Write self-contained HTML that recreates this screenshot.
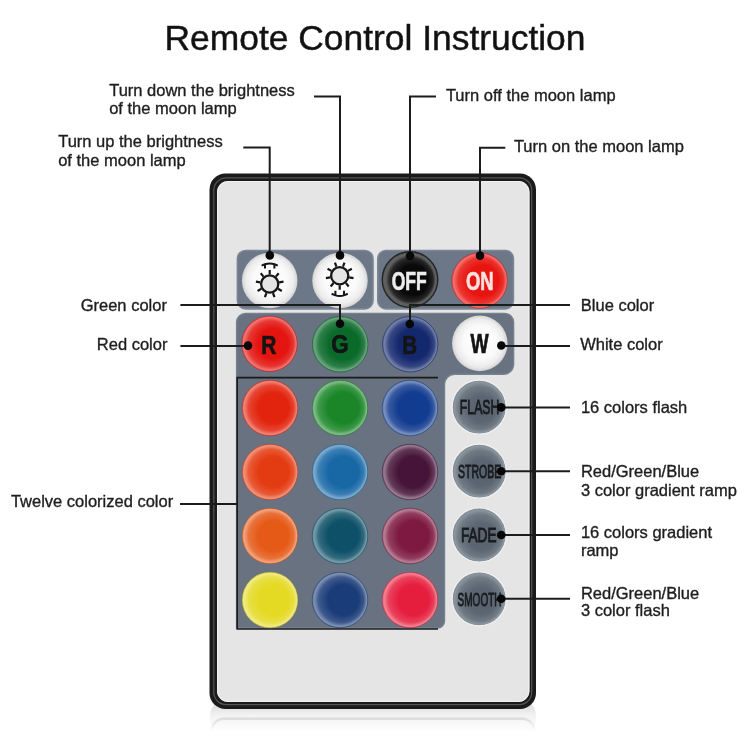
<!DOCTYPE html>
<html><head><meta charset="utf-8"><style>
html,body{margin:0;padding:0;background:#fff;width:750px;height:750px;overflow:hidden}
svg{display:block}
</style></head><body>
<svg width="750" height="750" viewBox="0 0 750 750" style="will-change:transform">
<defs><linearGradient id="refl" gradientUnits="userSpaceOnUse" x1="0" y1="708" x2="0" y2="732"><stop offset="0" stop-color="#e4e4e4"/><stop offset="0.3" stop-color="#f2f2f2"/><stop offset="1" stop-color="#ffffff"/></linearGradient><linearGradient id="refl2" gradientUnits="userSpaceOnUse" x1="0" y1="717" x2="0" y2="731"><stop offset="0" stop-color="#d8d8d8"/><stop offset="1" stop-color="#ffffff"/></linearGradient><radialGradient id="gw" cx="50%" cy="50%" r="50%" fx="52%" fy="45%"><stop offset="0" stop-color="#ffffff"/><stop offset="0.6" stop-color="#fafafa"/><stop offset="0.86" stop-color="#ececec"/><stop offset="0.97" stop-color="#d8d8d8"/><stop offset="1" stop-color="#c8c8c8"/></radialGradient><radialGradient id="goff" cx="50%" cy="50%" r="50%" fx="62%" fy="52%"><stop offset="0" stop-color="#050505"/><stop offset="0.55" stop-color="#0a0a0a"/><stop offset="0.78" stop-color="#262626"/><stop offset="0.9" stop-color="#626262"/><stop offset="0.97" stop-color="#5a5a5a"/><stop offset="1" stop-color="#2a2a2a"/></radialGradient><radialGradient id="gon" cx="50%" cy="50%" r="50%" fx="64%" fy="50%"><stop offset="0" stop-color="#e8140f"/><stop offset="0.55" stop-color="#e8140f"/><stop offset="0.82" stop-color="#eb3430"/><stop offset="0.95" stop-color="#f1726f"/><stop offset="1" stop-color="#ed4c48"/></radialGradient><radialGradient id="gr" cx="50%" cy="50%" r="50%" fx="64%" fy="50%"><stop offset="0" stop-color="#e41510"/><stop offset="0.55" stop-color="#e41510"/><stop offset="0.82" stop-color="#e73733"/><stop offset="0.95" stop-color="#ef7774"/><stop offset="1" stop-color="#ea4f4c"/></radialGradient><radialGradient id="gg" cx="50%" cy="50%" r="50%" fx="64%" fy="50%"><stop offset="0" stop-color="#0a6a2a"/><stop offset="0.55" stop-color="#0a6a2a"/><stop offset="0.82" stop-color="#2c7e47"/><stop offset="0.95" stop-color="#6ca57f"/><stop offset="1" stop-color="#448d5d"/></radialGradient><radialGradient id="gb" cx="50%" cy="50%" r="50%" fx="64%" fy="50%"><stop offset="0" stop-color="#14286e"/><stop offset="0.55" stop-color="#14286e"/><stop offset="0.82" stop-color="#364783"/><stop offset="0.95" stop-color="#7682aa"/><stop offset="1" stop-color="#4f5e92"/></radialGradient><radialGradient id="c00" cx="50%" cy="50%" r="50%" fx="64%" fy="50%"><stop offset="0" stop-color="#e2240e"/><stop offset="0.55" stop-color="#e2240e"/><stop offset="0.82" stop-color="#e64633"/><stop offset="0.95" stop-color="#ef867a"/><stop offset="1" stop-color="#e95f4f"/></radialGradient><radialGradient id="c01" cx="50%" cy="50%" r="50%" fx="64%" fy="50%"><stop offset="0" stop-color="#1a8628"/><stop offset="0.55" stop-color="#1a8628"/><stop offset="0.82" stop-color="#3e9949"/><stop offset="0.95" stop-color="#81bc88"/><stop offset="1" stop-color="#57a662"/></radialGradient><radialGradient id="c02" cx="50%" cy="50%" r="50%" fx="64%" fy="50%"><stop offset="0" stop-color="#123c90"/><stop offset="0.55" stop-color="#123c90"/><stop offset="0.82" stop-color="#375aa1"/><stop offset="0.95" stop-color="#7c93c1"/><stop offset="1" stop-color="#5170ad"/></radialGradient><radialGradient id="c10" cx="50%" cy="50%" r="50%" fx="64%" fy="50%"><stop offset="0" stop-color="#e43c12"/><stop offset="0.55" stop-color="#e43c12"/><stop offset="0.82" stop-color="#e85a37"/><stop offset="0.95" stop-color="#f0937c"/><stop offset="1" stop-color="#eb7051"/></radialGradient><radialGradient id="c11" cx="50%" cy="50%" r="50%" fx="64%" fy="50%"><stop offset="0" stop-color="#1868a6"/><stop offset="0.55" stop-color="#1868a6"/><stop offset="0.82" stop-color="#3c7fb4"/><stop offset="0.95" stop-color="#7fabce"/><stop offset="1" stop-color="#5690be"/></radialGradient><radialGradient id="c12" cx="50%" cy="50%" r="50%" fx="64%" fy="50%"><stop offset="0" stop-color="#461438"/><stop offset="0.55" stop-color="#461438"/><stop offset="0.82" stop-color="#633957"/><stop offset="0.95" stop-color="#997d91"/><stop offset="1" stop-color="#77536d"/></radialGradient><radialGradient id="c20" cx="50%" cy="50%" r="50%" fx="64%" fy="50%"><stop offset="0" stop-color="#e65a18"/><stop offset="0.55" stop-color="#e65a18"/><stop offset="0.82" stop-color="#e9733c"/><stop offset="0.95" stop-color="#f1a47f"/><stop offset="1" stop-color="#ec8656"/></radialGradient><radialGradient id="c21" cx="50%" cy="50%" r="50%" fx="64%" fy="50%"><stop offset="0" stop-color="#0e5068"/><stop offset="0.55" stop-color="#0e5068"/><stop offset="0.82" stop-color="#336b7f"/><stop offset="0.95" stop-color="#7a9eab"/><stop offset="1" stop-color="#4f7f90"/></radialGradient><radialGradient id="c22" cx="50%" cy="50%" r="50%" fx="64%" fy="50%"><stop offset="0" stop-color="#7e1a42"/><stop offset="0.55" stop-color="#7e1a42"/><stop offset="0.82" stop-color="#923e5f"/><stop offset="0.95" stop-color="#b88197"/><stop offset="1" stop-color="#a05775"/></radialGradient><radialGradient id="c30" cx="50%" cy="50%" r="50%" fx="64%" fy="50%"><stop offset="0" stop-color="#e4da24"/><stop offset="0.55" stop-color="#e4da24"/><stop offset="0.82" stop-color="#e8df46"/><stop offset="0.95" stop-color="#f0ea86"/><stop offset="1" stop-color="#ebe35f"/></radialGradient><radialGradient id="c31" cx="50%" cy="50%" r="50%" fx="64%" fy="50%"><stop offset="0" stop-color="#1a3c78"/><stop offset="0.55" stop-color="#1a3c78"/><stop offset="0.82" stop-color="#3e5a8d"/><stop offset="0.95" stop-color="#8193b4"/><stop offset="1" stop-color="#57709c"/></radialGradient><radialGradient id="c32" cx="50%" cy="50%" r="50%" fx="64%" fy="50%"><stop offset="0" stop-color="#e61e3e"/><stop offset="0.55" stop-color="#e61e3e"/><stop offset="0.82" stop-color="#e9415c"/><stop offset="0.95" stop-color="#f18394"/><stop offset="1" stop-color="#ec5a72"/></radialGradient><radialGradient id="ggr" cx="50%" cy="50%" r="50%" fx="60%" fy="57%"><stop offset="0" stop-color="#56616d"/><stop offset="0.5" stop-color="#5b6672"/><stop offset="0.8" stop-color="#6f7a85"/><stop offset="0.93" stop-color="#8c969f"/><stop offset="1" stop-color="#77818a"/></radialGradient></defs>
<rect x="210" y="700" width="326" height="34" rx="15" fill="url(#refl)"/><path d="M211.5 734 V731 A12.5 12.5 0 0 1 224 718.8 H522 A12.5 12.5 0 0 1 534.5 731 V734" fill="none" stroke="url(#refl2)" stroke-width="2.4"/><rect x="209.5" y="173.5" width="326.5" height="535.5" rx="16" fill="#1b1b1b"/><rect x="213.8" y="177.8" width="317.9" height="526.9" rx="12.5" fill="none" stroke="#555555" stroke-width="1.2"/><rect x="217" y="181" width="312.5" height="521" rx="11" fill="#e4e5e4"/><rect x="217.6" y="181.6" width="311.3" height="519.8" rx="10.5" fill="none" stroke="#f2f2f2" stroke-width="1"/><rect x="237.4" y="250.5" width="135.6" height="58.4" rx="8.2" fill="#6c7787" stroke="#7a8595" stroke-width="1.6"/><rect x="377.8" y="250.5" width="135.6" height="58.4" rx="8.2" fill="#6c7787" stroke="#7a8595" stroke-width="1.6"/><path d="M245.6 313.4 H504.6 A9 9 0 0 1 513.6 322.4 V364.3 A10 10 0 0 1 503.6 374.3 H454.5 A10 10 0 0 0 444.5 384.3 V621 A7 7 0 0 1 437.5 628 H236.6 V322.4 A9 9 0 0 1 245.6 313.4 Z" fill="#687281" stroke="#76808f" stroke-width="1.4"/><path d="M438 377.6 H237.2 V629 H438" fill="none" stroke="#1a1a1a" stroke-width="1.6"/><circle cx="269.7" cy="280.5" r="27.8" fill="url(#gw)"/><circle cx="340" cy="280.5" r="27.8" fill="url(#gw)"/><circle cx="410" cy="279.6" r="27.8" fill="url(#goff)" stroke="#262626" stroke-width="1.4"/><circle cx="479.6" cy="280.6" r="27.8" fill="url(#gon)" stroke="#b9100c" stroke-opacity="0.55" stroke-width="0.8"/><circle cx="269.5" cy="343.8" r="27.8" fill="url(#gr)" stroke="#b6100c" stroke-opacity="0.55" stroke-width="0.8"/><circle cx="340.2" cy="344.3" r="27.8" fill="url(#gg)" stroke="#085421" stroke-opacity="0.55" stroke-width="0.8"/><circle cx="410.2" cy="344.2" r="27.8" fill="url(#gb)" stroke="#102058" stroke-opacity="0.55" stroke-width="0.8"/><circle cx="479.8" cy="343.4" r="27.8" fill="url(#gw)"/><circle cx="270" cy="408" r="27.8" fill="url(#c00)" stroke="#b41c0b" stroke-opacity="0.55" stroke-width="0.8"/><circle cx="340" cy="408" r="27.8" fill="url(#c01)" stroke="#146b20" stroke-opacity="0.55" stroke-width="0.8"/><circle cx="410" cy="408" r="27.8" fill="url(#c02)" stroke="#0e3073" stroke-opacity="0.55" stroke-width="0.8"/><circle cx="270" cy="472" r="27.8" fill="url(#c10)" stroke="#b6300e" stroke-opacity="0.55" stroke-width="0.8"/><circle cx="340" cy="472" r="27.8" fill="url(#c11)" stroke="#135384" stroke-opacity="0.55" stroke-width="0.8"/><circle cx="410" cy="472" r="27.8" fill="url(#c12)" stroke="#38102c" stroke-opacity="0.55" stroke-width="0.8"/><circle cx="270" cy="536" r="27.8" fill="url(#c20)" stroke="#b84813" stroke-opacity="0.55" stroke-width="0.8"/><circle cx="340" cy="536" r="27.8" fill="url(#c21)" stroke="#0b4053" stroke-opacity="0.55" stroke-width="0.8"/><circle cx="410" cy="536" r="27.8" fill="url(#c22)" stroke="#641434" stroke-opacity="0.55" stroke-width="0.8"/><circle cx="270" cy="600" r="27.8" fill="url(#c30)" stroke="#b6ae1c" stroke-opacity="0.55" stroke-width="0.8"/><circle cx="340" cy="600" r="27.8" fill="url(#c31)" stroke="#143060" stroke-opacity="0.55" stroke-width="0.8"/><circle cx="410" cy="600" r="27.8" fill="url(#c32)" stroke="#b81831" stroke-opacity="0.55" stroke-width="0.8"/><circle cx="479.2" cy="407.2" r="27" fill="url(#ggr)" stroke="#f2f2f2" stroke-width="1.2"/><circle cx="479.2" cy="471.2" r="27" fill="url(#ggr)" stroke="#f2f2f2" stroke-width="1.2"/><circle cx="479.2" cy="535" r="27" fill="url(#ggr)" stroke="#f2f2f2" stroke-width="1.2"/><circle cx="479.2" cy="598.8" r="27" fill="url(#ggr)" stroke="#f2f2f2" stroke-width="1.2"/><circle cx="269.7" cy="284" r="8.6" fill="#e4e5e7" stroke="#161616" stroke-width="2.3"/><line x1="269.70" y1="274.40" x2="269.70" y2="270.00" stroke="#161616" stroke-width="2.2"/><line x1="275.87" y1="276.65" x2="278.70" y2="273.28" stroke="#161616" stroke-width="2.2"/><line x1="279.15" y1="282.33" x2="283.49" y2="281.57" stroke="#161616" stroke-width="2.2"/><line x1="278.01" y1="288.80" x2="281.82" y2="291.00" stroke="#161616" stroke-width="2.2"/><line x1="272.98" y1="293.02" x2="274.49" y2="297.16" stroke="#161616" stroke-width="2.2"/><line x1="266.42" y1="293.02" x2="264.91" y2="297.16" stroke="#161616" stroke-width="2.2"/><line x1="261.39" y1="288.80" x2="257.58" y2="291.00" stroke="#161616" stroke-width="2.2"/><line x1="260.25" y1="282.33" x2="255.91" y2="281.57" stroke="#161616" stroke-width="2.2"/><line x1="263.53" y1="276.65" x2="260.70" y2="273.28" stroke="#161616" stroke-width="2.2"/><path d="M261.6 265.6 L264.8 264.3 Q269.7 262.5 274.6 264.3 L277.8 265.6" fill="none" stroke="#161616" stroke-width="2" stroke-linejoin="round"/><path d="M265 264 V268.4 M274.4 264 V268.4" fill="none" stroke="#161616" stroke-width="2"/><circle cx="339.7" cy="275.7" r="8.6" fill="#e4e5e7" stroke="#161616" stroke-width="2.3"/><line x1="339.70" y1="285.30" x2="339.70" y2="289.70" stroke="#161616" stroke-width="2.2"/><line x1="345.87" y1="283.05" x2="348.70" y2="286.42" stroke="#161616" stroke-width="2.2"/><line x1="349.15" y1="277.37" x2="353.49" y2="278.13" stroke="#161616" stroke-width="2.2"/><line x1="348.01" y1="270.90" x2="351.82" y2="268.70" stroke="#161616" stroke-width="2.2"/><line x1="342.98" y1="266.68" x2="344.49" y2="262.54" stroke="#161616" stroke-width="2.2"/><line x1="336.42" y1="266.68" x2="334.91" y2="262.54" stroke="#161616" stroke-width="2.2"/><line x1="331.39" y1="270.90" x2="327.58" y2="268.70" stroke="#161616" stroke-width="2.2"/><line x1="330.25" y1="277.37" x2="325.91" y2="278.13" stroke="#161616" stroke-width="2.2"/><line x1="333.53" y1="283.05" x2="330.70" y2="286.42" stroke="#161616" stroke-width="2.2"/><path d="M331.6 293.8 L334.8 295.1 Q339.7 296.9 344.6 295.1 L347.8 293.8" fill="none" stroke="#161616" stroke-width="2" stroke-linejoin="round"/><path d="M335.4 290.8 V295.2 M344 290.8 V295.2" fill="none" stroke="#161616" stroke-width="2"/><text x="0" y="0" transform="translate(391.63 289.65) scale(0.667 1)" font-family="Liberation Sans" font-weight="bold" font-size="26.31" fill="#ececec" stroke="#ececec" stroke-width="0.7">OFF</text><text x="0" y="0" transform="translate(465.99 289.65) scale(0.702 1)" font-family="Liberation Sans" font-weight="bold" font-size="26.31" fill="#fbe0e0" stroke="#fbe0e0" stroke-width="0.7">ON</text><text x="0" y="0" transform="translate(261.35 353.65) scale(0.796 1)" font-family="Liberation Sans" font-weight="bold" font-size="26.31" fill="#141414" stroke="#141414" stroke-width="0.7">R</text><text x="0" y="0" transform="translate(331.23 353.25) scale(0.841 1)" font-family="Liberation Sans" font-weight="bold" font-size="26.60" fill="#141414" stroke="#141414" stroke-width="0.7">G</text><text x="0" y="0" transform="translate(402.18 353.84999999999997) scale(0.771 1)" font-family="Liberation Sans" font-weight="bold" font-size="26.60" fill="#141414" stroke="#141414" stroke-width="0.7">B</text><text x="0" y="0" transform="translate(470.53 353.25) scale(0.707 1)" font-family="Liberation Sans" font-weight="bold" font-size="27.18" fill="#141414" stroke="#141414" stroke-width="0.7">W</text><text x="0" y="0" transform="translate(459.84 413.95) scale(0.625 1)" font-family="Liberation Sans" font-weight="normal" font-size="19.62" fill="#1a1c1f" stroke="#1a1c1f" stroke-width="0.9">FLASH</text><text x="0" y="0" transform="translate(457.97 478.35) scale(0.552 1)" font-family="Liberation Sans" font-weight="normal" font-size="19.04" fill="#1a1c1f" stroke="#1a1c1f" stroke-width="0.9">STROBE</text><text x="0" y="0" transform="translate(460.93 542.15) scale(0.696 1)" font-family="Liberation Sans" font-weight="normal" font-size="19.62" fill="#1a1c1f" stroke="#1a1c1f" stroke-width="0.9">FADE</text><text x="0" y="0" transform="translate(457.60 605.75) scale(0.526 1)" font-family="Liberation Sans" font-weight="normal" font-size="19.04" fill="#1a1c1f" stroke="#1a1c1f" stroke-width="0.9">SMOOTH</text><path d="M314 96.4 L340 96.4 L340 255" fill="none" stroke="#1c1c1c" stroke-width="2.0"/><circle cx="340" cy="255.4" r="4.3" fill="#080808"/><path d="M243.3 147.5 L269.7 147.5 L269.7 255" fill="none" stroke="#1c1c1c" stroke-width="2.0"/><circle cx="269.8" cy="255.4" r="4.3" fill="#080808"/><path d="M436 96.4 L410 96.4 L410 255" fill="none" stroke="#1c1c1c" stroke-width="2.0"/><circle cx="410" cy="256" r="4.3" fill="#080808"/><path d="M505.3 147.7 L480 147.7 L480 255" fill="none" stroke="#1c1c1c" stroke-width="2.0"/><circle cx="480" cy="255.6" r="4.3" fill="#080808"/><path d="M180.4 305.1 L340 305.1 L340 323.6" fill="none" stroke="#1c1c1c" stroke-width="2.0"/><circle cx="340" cy="323.8" r="4.3" fill="#080808"/><path d="M180.4 346 L248 346" fill="none" stroke="#1c1c1c" stroke-width="2.0"/><circle cx="248" cy="345.6" r="4.3" fill="#080808"/><path d="M570 305.1 L410 305.1 L410 323.6" fill="none" stroke="#1c1c1c" stroke-width="2.0"/><circle cx="409.8" cy="324" r="4.3" fill="#080808"/><path d="M570 346 L501 346" fill="none" stroke="#1c1c1c" stroke-width="2.0"/><circle cx="501.3" cy="345.5" r="4.3" fill="#080808"/><path d="M180 504 L237 504" fill="none" stroke="#1c1c1c" stroke-width="2.0"/><path d="M570 407.4 L501 407.4" fill="none" stroke="#1c1c1c" stroke-width="2.0"/><circle cx="501.2" cy="407.4" r="4.3" fill="#080808"/><path d="M570 471.3 L501 471.3" fill="none" stroke="#1c1c1c" stroke-width="2.0"/><circle cx="501.2" cy="471.3" r="4.3" fill="#080808"/><path d="M570 535 L501 535" fill="none" stroke="#1c1c1c" stroke-width="2.0"/><circle cx="501.2" cy="535" r="4.3" fill="#080808"/><path d="M570 598.7 L501 598.7" fill="none" stroke="#1c1c1c" stroke-width="2.0"/><circle cx="501.2" cy="598.7" r="4.3" fill="#080808"/>
<g stroke="#1e1e1e" stroke-width="0.35"><text x="164.5" y="49.5" font-family="Liberation Sans" font-size="35.4" fill="#111" stroke-width="0.5">Remote Control Instruction</text><text x="109.2" y="95.7" font-family="Liberation Sans" font-size="16.5" fill="#1e1e1e">Turn down the brightness</text><text x="109.2" y="114.3" font-family="Liberation Sans" font-size="16.5" fill="#1e1e1e">of the moon lamp</text><text x="58.2" y="147" font-family="Liberation Sans" font-size="16.5" fill="#1e1e1e">Turn up the brightness</text><text x="58.2" y="165.7" font-family="Liberation Sans" font-size="16.5" fill="#1e1e1e">of the moon lamp</text><text x="445.9" y="101.3" font-family="Liberation Sans" font-size="16.5" fill="#1e1e1e">Turn off the moon lamp</text><text x="513.9000000000001" y="152" font-family="Liberation Sans" font-size="16.5" fill="#1e1e1e">Turn on the moon lamp</text><text x="80.7" y="311.1" font-family="Liberation Sans" font-size="16.5" fill="#1e1e1e">Green color</text><text x="96.8" y="350" font-family="Liberation Sans" font-size="16.5" fill="#1e1e1e">Red color</text><text x="580.8000000000001" y="310.9" font-family="Liberation Sans" font-size="16.5" fill="#1e1e1e">Blue color</text><text x="580.2" y="350" font-family="Liberation Sans" font-size="16.5" fill="#1e1e1e">White color</text><text x="10.899999999999999" y="507.3" font-family="Liberation Sans" font-size="16.5" fill="#1e1e1e">Twelve colorized color</text><text x="580.9000000000001" y="412.7" font-family="Liberation Sans" font-size="16.5" fill="#1e1e1e">16 colors flash</text><text x="580.9000000000001" y="477.2" font-family="Liberation Sans" font-size="16.5" fill="#1e1e1e">Red/Green/Blue</text><text x="580.9000000000001" y="495.6" font-family="Liberation Sans" font-size="16.5" fill="#1e1e1e">3 color gradient ramp</text><text x="580.9000000000001" y="538" font-family="Liberation Sans" font-size="16.5" fill="#1e1e1e">16 colors gradient</text><text x="580.9000000000001" y="556.4" font-family="Liberation Sans" font-size="16.5" fill="#1e1e1e">ramp</text><text x="580.9000000000001" y="598.5" font-family="Liberation Sans" font-size="16.5" fill="#1e1e1e">Red/Green/Blue</text><text x="580.9000000000001" y="616.4" font-family="Liberation Sans" font-size="16.5" fill="#1e1e1e">3 color flash</text></g>
</svg>
</body></html>
